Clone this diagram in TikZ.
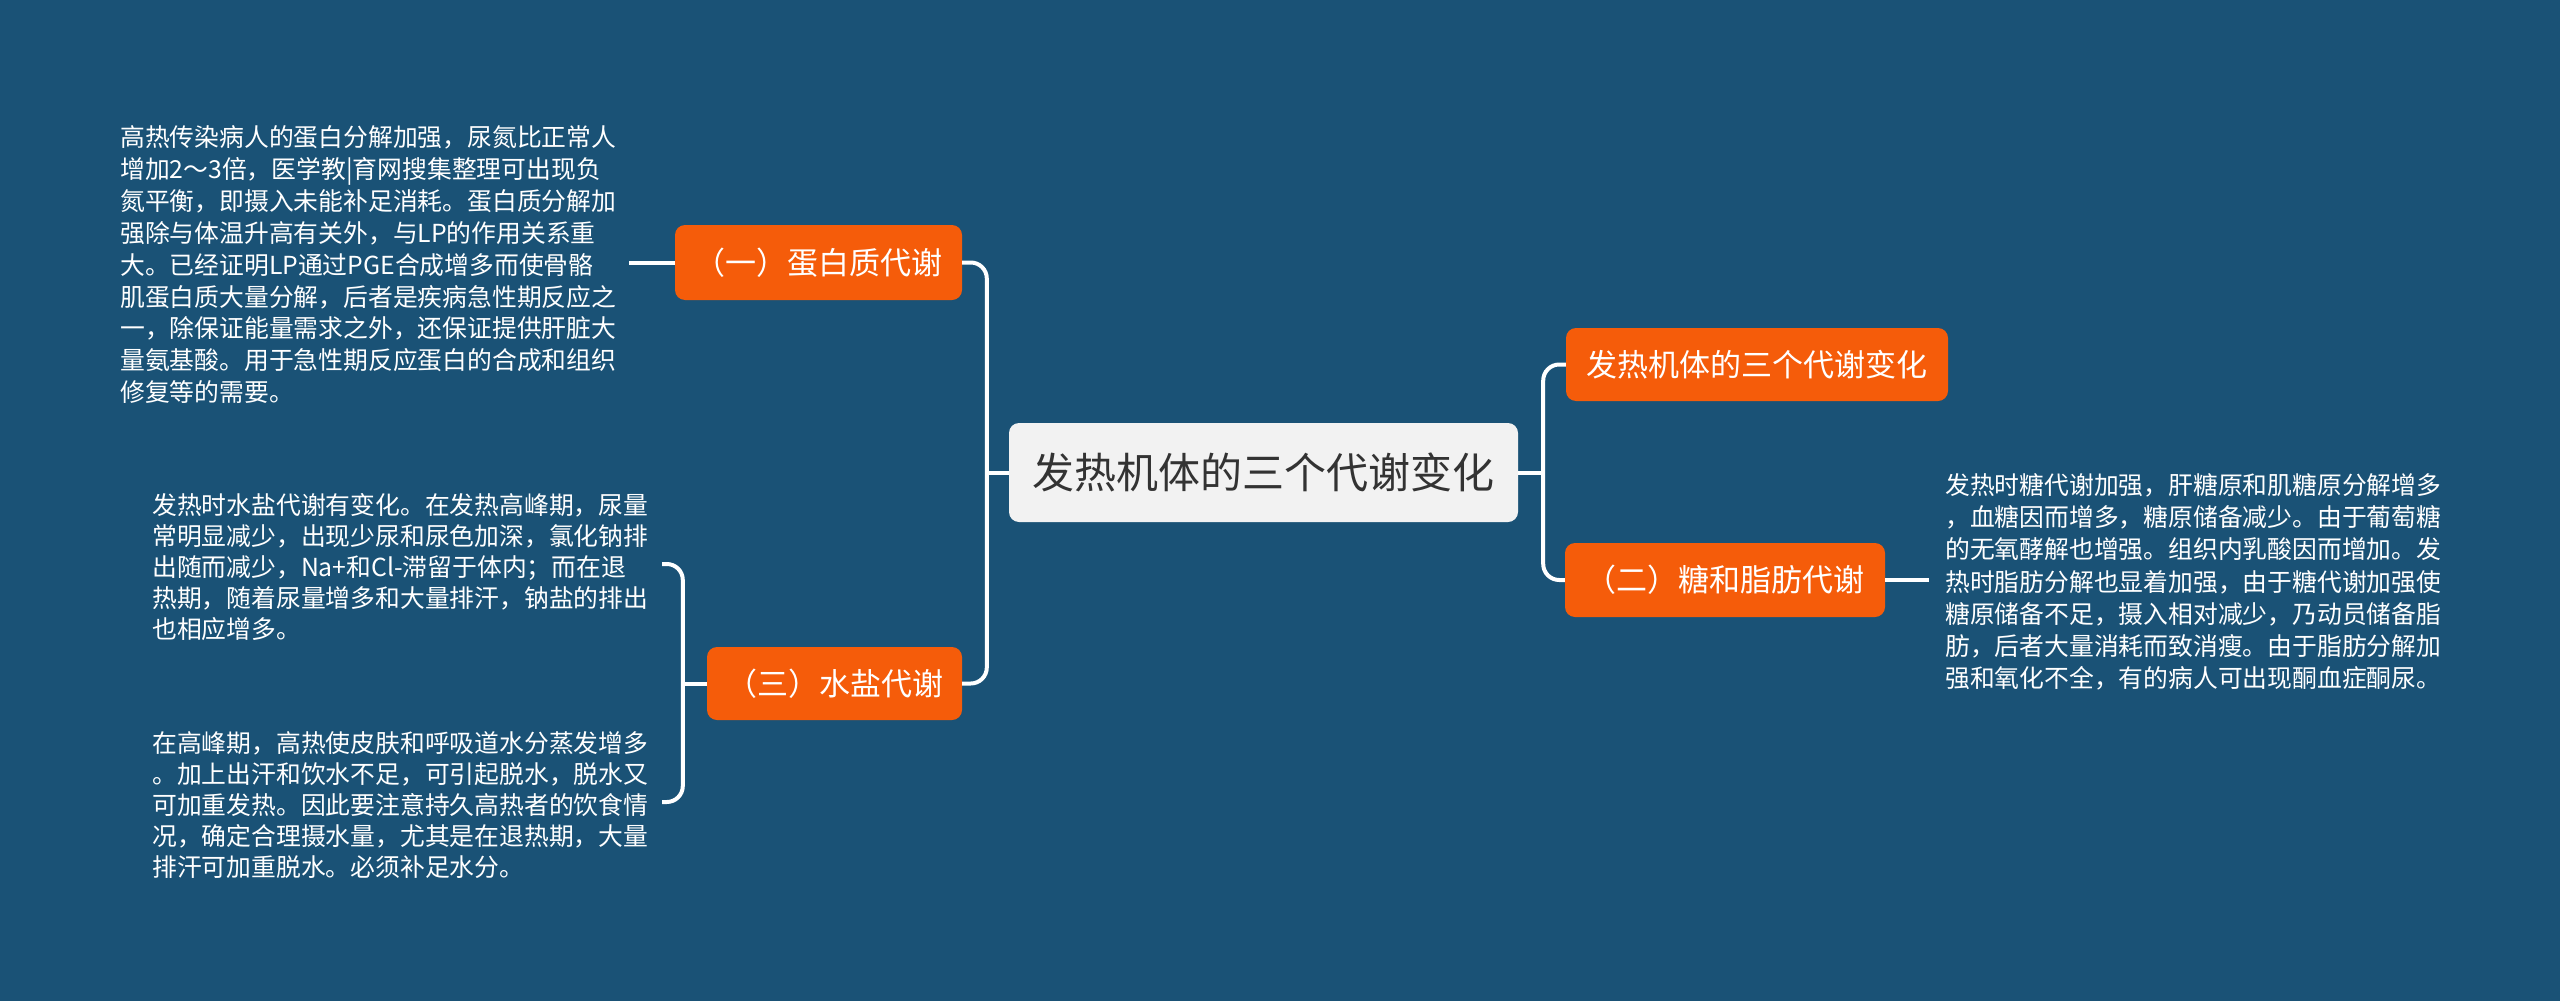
\documentclass[tikz,border=0pt]{standalone}
\usepackage{fontspec}
\setmainfont{Noto Sans CJK SC}
\usetikzlibrary{calc}
\definecolor{bg}{HTML}{1A5276}
\definecolor{org}{HTML}{F55C0A}
\definecolor{cfill}{HTML}{F2F2F2}
\definecolor{ctext}{HTML}{333333}
\newcommand{\paratext}[2]{\parbox[t]{600pt}{\fontsize{24.8}{#1}\selectfont #2}}
\begin{document}
\begin{tikzpicture}[x=1pt,y=-1pt,
  onode/.style={fill=org, rounded corners=10pt, text=white, inner sep=0pt,
    font=\fontsize{31}{36}\selectfont},
  cnode/.style={fill=cfill, rounded corners=10pt, text=ctext, inner sep=0pt,
    font=\fontsize{42}{48}\selectfont},
  para/.style={text=white, inner sep=0pt, anchor=base west},
  conn/.style={draw=white, line width=4pt},
  elbow/.style={conn, rounded corners=16pt}]
\fill[bg] (0,0) rectangle (2560,1001);
\useasboundingbox (0,0) rectangle (2560,1001);

% main nodes
\node[cnode, minimum width=509pt, minimum height=99pt] (c) at (1263.5,472.5) {发热机体的三个代谢变化};
\node[onode, minimum width=287pt, minimum height=75pt] (n1) at (818.5,262.5) {（一）蛋白质代谢};
\node[onode, minimum width=255pt, minimum height=73pt] (n3) at (834.5,683.5) {（三）水盐代谢};
\node[onode, minimum width=382pt, minimum height=73pt] (r1) at (1757,364.5) {发热机体的三个代谢变化};
\node[onode, minimum width=320pt, minimum height=74pt] (r2) at (1725,580) {（二）糖和脂肪代谢};

% text blocks
\node[para] (tl) at (120,146.5) {\paratext{31.9}{高热传染病人的蛋白分解加强，尿氮比正常人\\
增加2～3倍，医学教|育网搜集整理可出现负\\
氮平衡，即摄入未能补足消耗。蛋白质分解加\\
强除与体温升高有关外，与LP的作用关系重\\
大。已经证明LP通过PGE合成增多而使骨骼\\
肌蛋白质大量分解，后者是疾病急性期反应之\\
一，除保证能量需求之外，还保证提供肝脏大\\
量氨基酸。用于急性期反应蛋白的合成和组织\\
修复等的需要。}};

\node[para] (bl1) at (152,514.5) {\paratext{31}{发热时水盐代谢有变化。在发热高峰期，尿量\\
常明显减少，出现少尿和尿色加深，氯化钠排\\
出随而减少，Na+和Cl-滞留于体内；而在退\\
热期，随着尿量增多和大量排汗，钠盐的排出\\
也相应增多。}};

\node[para] (bl2) at (152,752.5) {\paratext{31}{在高峰期，高热使皮肤和呼吸道水分蒸发增多\\
。加上出汗和饮水不足，可引起脱水，脱水又\\
可加重发热。因此要注意持久高热者的饮食情\\
况，确定合理摄水量，尤其是在退热期，大量\\
排汗可加重脱水。必须补足水分。}};

\node[para] (rt) at (1945,494.5) {\paratext{32.2}{发热时糖代谢加强，肝糖原和肌糖原分解增多\\
，血糖因而增多，糖原储备减少。由于葡萄糖\\
的无氧酵解也增强。组织内乳酸因而增加。发\\
热时脂肪分解也显着加强，由于糖代谢加强使\\
糖原储备不足，摄入相对减少，乃动员储备脂\\
肪，后者大量消耗而致消瘦。由于脂肪分解加\\
强和氧化不全，有的病人可出现酮血症酮尿。}};

% connectors: centre to left branches
\coordinate (ltrunk) at ($(c.west)+(-22,0)$);
\draw[elbow] (n1.east) -| (ltrunk) |- (n3.east);
\draw[conn] (c.west) -- (ltrunk);
% centre to right branches
\coordinate (rtrunk) at ($(c.east)+(25,0)$);
\draw[elbow] (r1.west) -| (rtrunk) |- (r2.west);
\draw[conn] (c.east) -- (rtrunk);
% leaves
\coordinate (tlend) at ($(n1.west)+(-46,0)$);
\draw[conn] (n1.west) -- (tlend);
\coordinate (rtend) at ($(r2.east)+(44,0)$);
\draw[conn] (r2.east) -- (rtend);
% bracket for (三)
\coordinate (b1) at (662,564);
\coordinate (b2) at (662,802);
\coordinate (bmid) at ($(n3.west)+(-24,0)$);
\draw[elbow] (b1) -| (bmid) |- (b2);
\draw[conn] (n3.west) -- (bmid);
\end{tikzpicture}
\end{document}
